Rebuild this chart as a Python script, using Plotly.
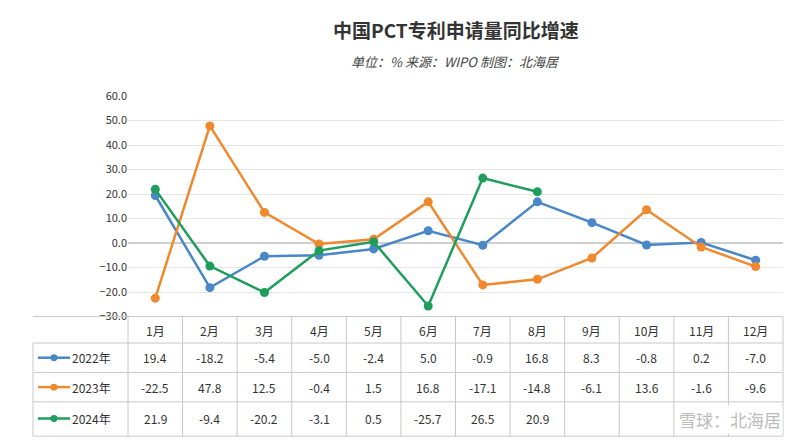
import plotly.graph_objects as go

months = ["1月", "2月", "3月", "4月", "5月", "6月", "7月", "8月", "9月", "10月", "11月", "12月"]
years = ["2022年", "2023年", "2024年"]
v2022 = [19.4, -18.2, -5.4, -5.0, -2.4, 5.0, -0.9, 16.8, 8.3, -0.8, 0.2, -7.0]
v2023 = [-22.5, 47.8, 12.5, -0.4, 1.5, 16.8, -17.1, -14.8, -6.1, 13.6, -1.6, -9.6]
v2024 = [21.9, -9.4, -20.2, -3.1, 0.5, -25.7, 26.5, 20.9, None, None, None, None]
colors = ["#4a87c8", "#f0892e", "#1e9e5c"]

H, TOP = 442, 88
def py(px):  # pixel y -> paper y
    return (H - px) / (H - TOP)

fig = go.Figure()
for name, vals, c in zip(years, [v2022, v2023, v2024], colors):
    fig.add_trace(go.Scatter(x=list(range(12)), y=vals, name=name, mode="lines+markers",
                             line=dict(color=c, width=2.5), marker=dict(size=9, color=c)))

ann = []
shapes = []
# header row
for i, m in enumerate(months):
    ann.append(dict(x=i, y=py(327), xref="x", yref="paper", text=m, showarrow=False, yanchor="middle",
                    font=dict(size=12, color="#333")))
rows_y = [355, 385, 417]
for name, vals, c, ry in zip(years, [v2022, v2023, v2024], colors, rows_y):
    for i, v in enumerate(vals):
        if v is not None:
            ann.append(dict(x=i, y=py(ry), xref="x", yref="paper", text=f"{v:.1f}", showarrow=False,
                            yanchor="middle", font=dict(size=12, color="#333")))
    # legend label
    ann.append(dict(x=-58/655, y=py(ry), xref="x domain", yref="paper", text=name, showarrow=False,
                    xanchor="left", yanchor="middle", font=dict(size=12, color="#333")))
    shapes.append(dict(type="line", xref="x domain", yref="paper", x0=-90/655, x1=-58/655,
                       y0=py(ry), y1=py(ry), line=dict(color=c, width=2.5)))
    shapes.append(dict(type="circle", xref="x domain", yref="paper", x0=-77.5/655, x1=-70.5/655,
                       y0=py(ry + 3.5), y1=py(ry - 3.5), fillcolor=c, line=dict(color=c, width=0)))
# table grid
for yy in [313, 340, 370, 400, 435]:
    shapes.append(dict(type="line", xref="x domain", yref="paper", x0=-95/655, x1=1,
                       y0=py(yy), y1=py(yy), line=dict(color="#c8c8c8", width=1)))
for k in range(13):
    shapes.append(dict(type="line", xref="x domain", yref="paper", x0=k / 12, x1=k / 12,
                       y0=py(313), y1=py(435), line=dict(color="#c8c8c8", width=1)))
shapes.append(dict(type="line", xref="x domain", yref="paper", x0=-95/655, x1=-95/655,
                   y0=py(340), y1=py(435), line=dict(color="#c8c8c8", width=1)))

ann.append(dict(x=0.5, y=py(20), xref="paper", yref="paper", text="<b>中国PCT专利申请量同比增速</b>",
                showarrow=False, yanchor="middle", font=dict(size=19, color="#333")))
ann.append(dict(x=0.5, y=py(53), xref="paper", yref="paper", text="<i>单位：% 来源：WIPO 制图：北海居</i>",
                showarrow=False, yanchor="middle", font=dict(size=13, color="#444")))
ann.append(dict(x=1.0, y=py(418), xref="paper", yref="paper", text="雪球：北海居", xanchor="right",
                yanchor="middle", showarrow=False, bgcolor="white", font=dict(size=17, color="#bbb")))

fig.update_layout(
    width=800, height=442, margin=dict(l=120, r=25, t=TOP, b=0),
    plot_bgcolor="white", paper_bgcolor="white", showlegend=False,
    font=dict(family="Noto Sans CJK SC"),
    xaxis=dict(range=[-0.5, 11.5], showticklabels=False, showgrid=False, zeroline=False),
    yaxis=dict(domain=[py(313), 1], range=[-30, 60], dtick=10, tickformat=".1f",
               gridcolor="#e6e6e6", zeroline=True, zerolinecolor="#cfcfcf",
               tickfont=dict(size=11, color="#333")),
    annotations=ann, shapes=shapes,
)
fig.write_html("out.html")
